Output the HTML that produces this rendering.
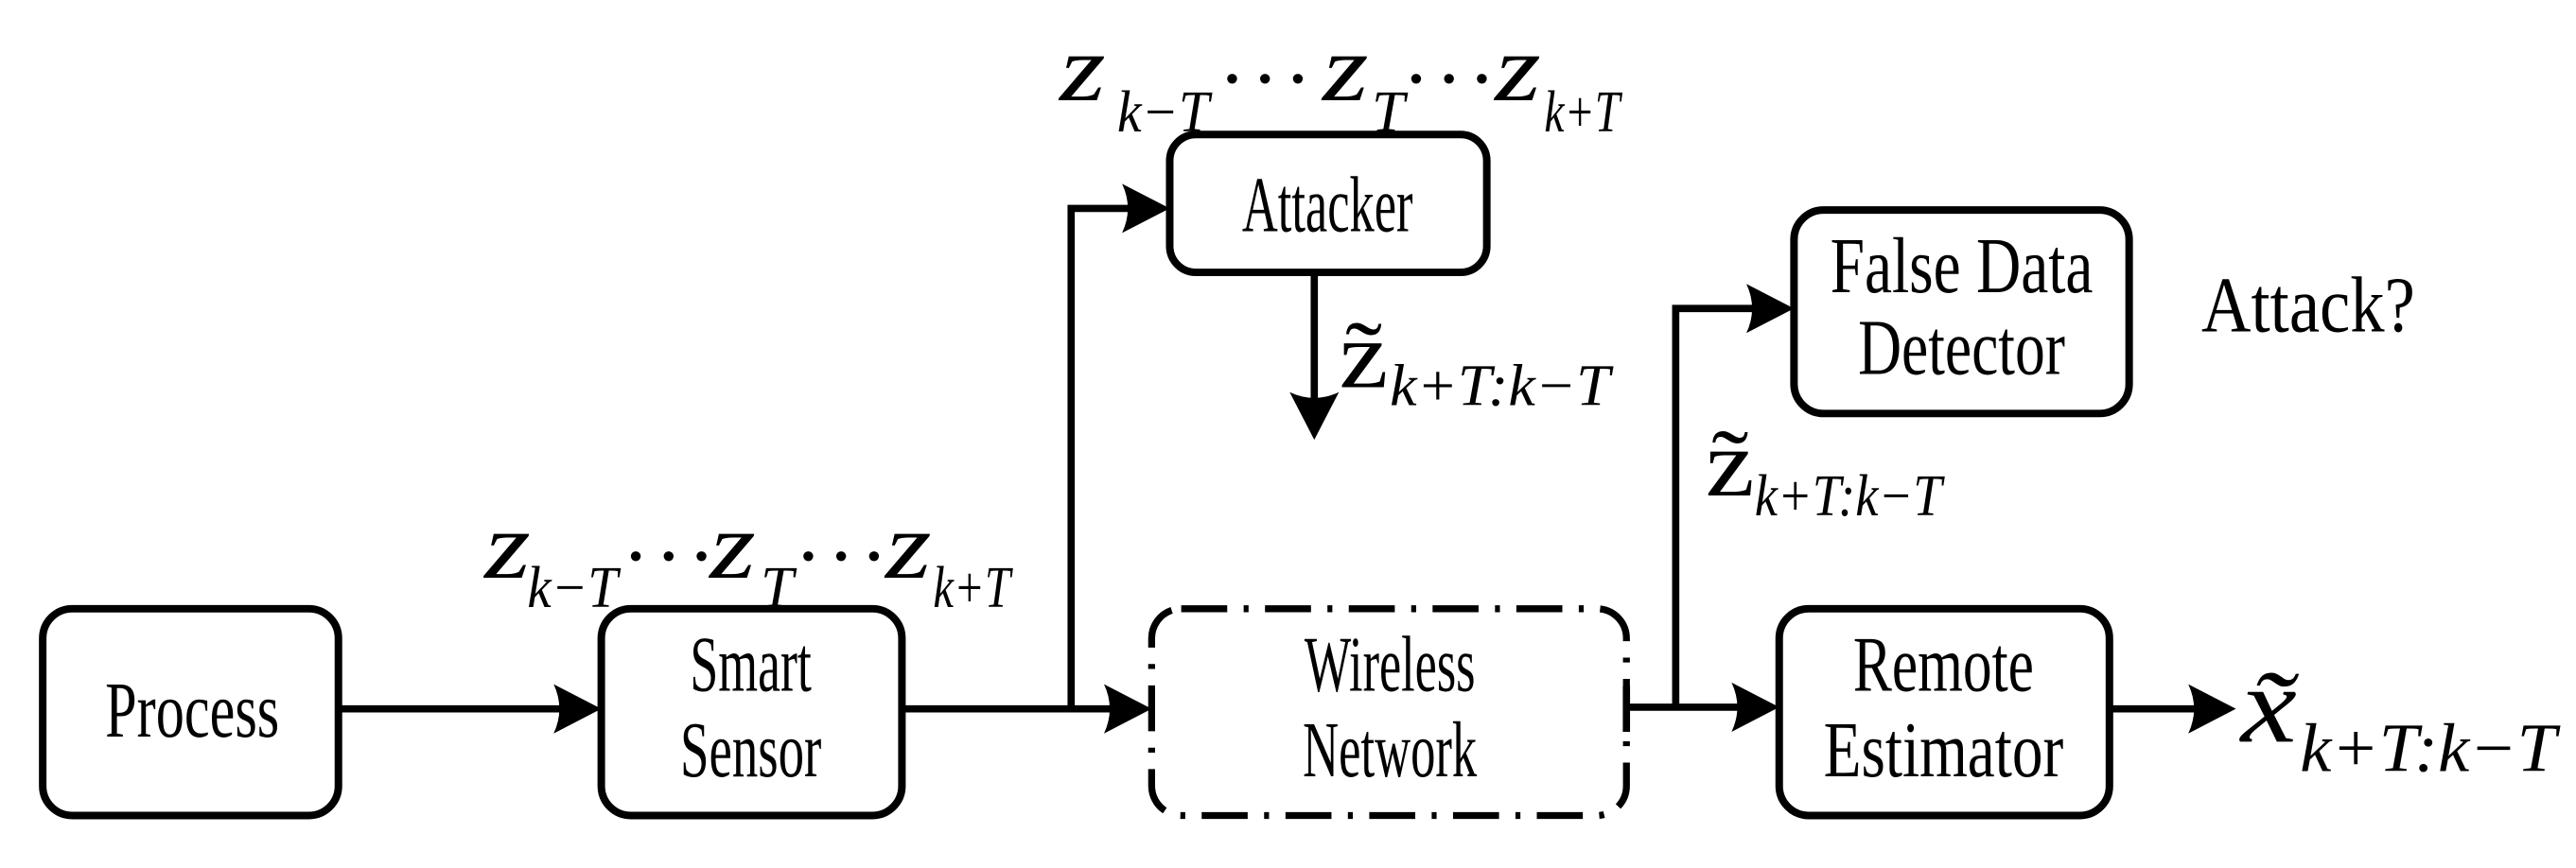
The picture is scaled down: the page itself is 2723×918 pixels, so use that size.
<!DOCTYPE html>
<html><head><meta charset="utf-8"><style>
html,body{margin:0;padding:0;background:#fff;}
svg{display:block;}
text{font-family:"Liberation Serif",serif;fill:#000;}
.b{fill:none;stroke:#000;stroke-width:4.6;}
.l{fill:none;stroke:#000;stroke-width:4.4;}
.it{font-style:italic;}
</style></head><body>
<svg width="2723" height="918" viewBox="0 0 1568 529" preserveAspectRatio="none" xmlns="http://www.w3.org/2000/svg">
<defs>
<path id="ah" d="M0,0 L-29,-15 Q-22,0 -29,15 Z" fill="#000"/>
<g id="dots"><circle cx="0" cy="0" r="3"/><circle cx="20" cy="0" r="3"/><circle cx="40" cy="0" r="3"/></g>
</defs>
<!-- boxes -->
<rect class="b" x="26" y="371" width="180" height="126" rx="18"/>
<rect class="b" x="366" y="371" width="183" height="126" rx="18"/>
<rect class="b" x="712" y="82" width="193" height="84" rx="16"/>
<rect class="b" x="1092" y="128" width="204" height="124" rx="18"/>
<rect class="b" x="1083" y="371" width="201" height="126" rx="18"/>
<rect x="701" y="371" width="289" height="126" rx="18" fill="none" stroke="#000" stroke-width="4.2" stroke-dasharray="28,10,3,10"/>
<!-- texts -->
<text x="117" y="449" font-size="48" text-anchor="middle" textLength="106" lengthAdjust="spacingAndGlyphs">Process</text>
<text x="457" y="421" font-size="48" text-anchor="middle" textLength="74" lengthAdjust="spacingAndGlyphs">Smart</text>
<text x="457" y="473" font-size="48" text-anchor="middle" textLength="86" lengthAdjust="spacingAndGlyphs">Sensor</text>
<text x="808" y="141" font-size="48" text-anchor="middle" textLength="104" lengthAdjust="spacingAndGlyphs">Attacker</text>
<text x="846" y="421" font-size="48" text-anchor="middle" textLength="104" lengthAdjust="spacingAndGlyphs">Wireless</text>
<text x="846" y="473" font-size="48" text-anchor="middle" textLength="106" lengthAdjust="spacingAndGlyphs">Network</text>
<text x="1194" y="178" font-size="48" text-anchor="middle" textLength="160" lengthAdjust="spacingAndGlyphs">False Data</text>
<text x="1194" y="228" font-size="48" text-anchor="middle" textLength="126" lengthAdjust="spacingAndGlyphs">Detector</text>
<text x="1183" y="421" font-size="48" text-anchor="middle" textLength="110" lengthAdjust="spacingAndGlyphs">Remote</text>
<text x="1183" y="473" font-size="48" text-anchor="middle" textLength="146" lengthAdjust="spacingAndGlyphs">Estimator</text>
<text x="1340" y="202" font-size="48" textLength="130" lengthAdjust="spacingAndGlyphs">Attack?</text>
<!-- connectors -->
<line class="l" x1="206" y1="432" x2="345" y2="432"/><use href="#ah" x="366" y="432"/>
<line class="l" x1="549" y1="432" x2="680" y2="432"/><use href="#ah" x="701" y="432"/>
<polyline class="l" points="652,432 652,127 692,127"/><use href="#ah" x="712" y="127"/>
<line class="l" x1="800" y1="166" x2="800" y2="248"/><use href="#ah" transform="translate(800,268) rotate(90)"/>
<line class="l" x1="990" y1="418" x2="990" y2="446"/>
<line class="l" x1="990" y1="431" x2="1062" y2="431"/><use href="#ah" x="1083" y="431"/>
<polyline class="l" points="1020,431 1020,188 1072,188"/><use href="#ah" x="1092" y="188"/>
<line class="l" x1="1284" y1="432" x2="1340" y2="432"/><use href="#ah" x="1361" y="432"/>
<!-- math labels top -->
<g class="it">
<text x="645" y="61" font-size="58" textLength="28" lengthAdjust="spacingAndGlyphs">z</text>
<text x="680" y="80" font-size="36" textLength="56" lengthAdjust="spacingAndGlyphs">k−T</text>
<text x="805" y="61" font-size="58" textLength="28" lengthAdjust="spacingAndGlyphs">z</text>
<text x="835" y="80" font-size="36" textLength="20" lengthAdjust="spacingAndGlyphs">T</text>
<text x="910" y="61" font-size="58" textLength="28" lengthAdjust="spacingAndGlyphs">z</text>
<text x="940" y="80" font-size="36" textLength="46" lengthAdjust="spacingAndGlyphs">k+T</text>
</g>
<use href="#dots" x="750" y="48"/><use href="#dots" x="862" y="48"/>
<g class="it">
<text x="295" y="352" font-size="58" textLength="28" lengthAdjust="spacingAndGlyphs">z</text>
<text x="321" y="370" font-size="36" textLength="55" lengthAdjust="spacingAndGlyphs">k−T</text>
<text x="432" y="352" font-size="58" textLength="28" lengthAdjust="spacingAndGlyphs">z</text>
<text x="463" y="370" font-size="36" textLength="20" lengthAdjust="spacingAndGlyphs">T</text>
<text x="539" y="352" font-size="58" textLength="28" lengthAdjust="spacingAndGlyphs">z</text>
<text x="568" y="370" font-size="36" textLength="47" lengthAdjust="spacingAndGlyphs">k+T</text>
</g>
<use href="#dots" x="387" y="339"/><use href="#dots" x="492" y="339"/>
<!-- tilde labels -->
<text x="815" y="236" font-size="58" textLength="30" lengthAdjust="spacingAndGlyphs">z̃</text>
<text x="846" y="247" font-size="36" class="it" textLength="134" lengthAdjust="spacingAndGlyphs">k+T:k−T</text>
<text x="1038" y="302" font-size="58" textLength="30" lengthAdjust="spacingAndGlyphs">z̃</text>
<text x="1068" y="314" font-size="36" class="it" textLength="114" lengthAdjust="spacingAndGlyphs">k+T:k−T</text>
<text x="1364" y="452" font-size="66" class="it" textLength="34" lengthAdjust="spacingAndGlyphs">x̃</text>
<text x="1400" y="470" font-size="42" class="it" textLength="156" lengthAdjust="spacingAndGlyphs">k+T:k−T</text>
</svg>
</body></html>
